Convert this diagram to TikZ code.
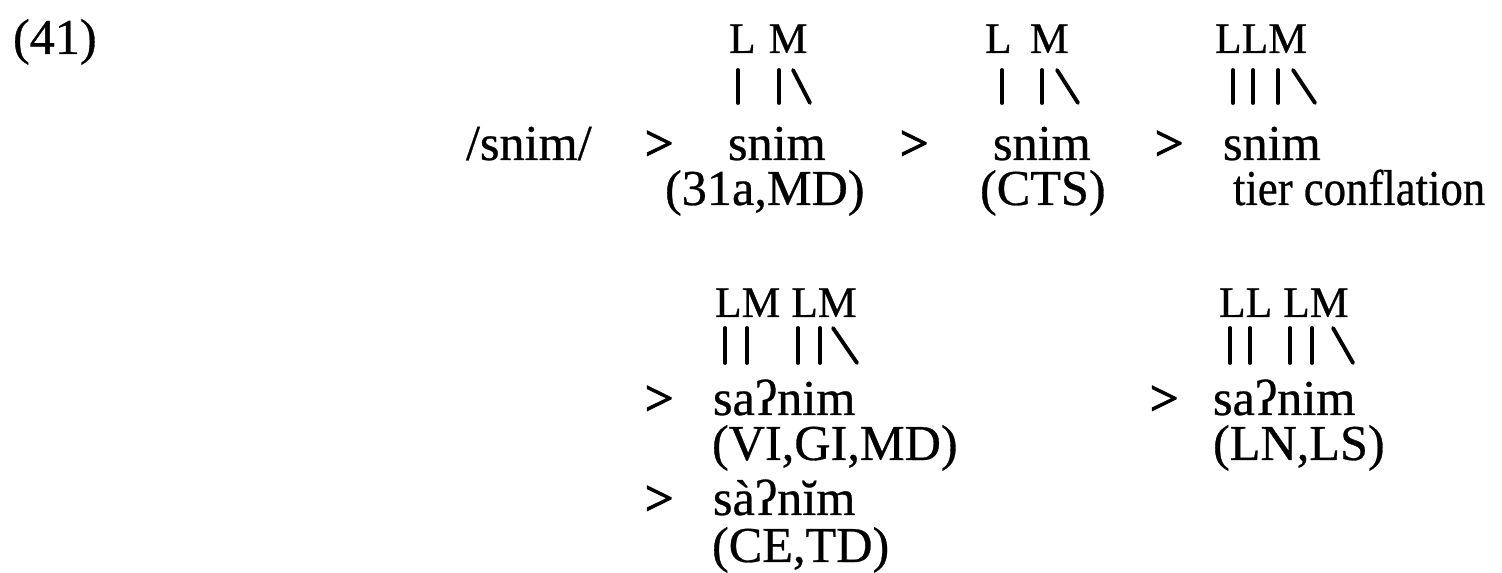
\documentclass[tikz,border=0pt]{standalone}
\usepackage{fontspec}
\setmainfont{Liberation Serif}
\newfontfamily\scanfont{Liberation Serif}[FakeBold=0.6]
\newfontfamily\relfont{Liberation Serif}[FakeBold=2.5]
\usetikzlibrary{positioning}

\begin{document}
\begin{tikzpicture}[x=1cm, y=-1cm,
	every node/.style={anchor=base west, inner sep=0pt, outer sep=0pt},
	seg/.style={font=\scanfont\fontsize{14.3}{17}\selectfont},
	rel/.style={font=\relfont\fontsize{14.3}{17}\selectfont},
	tone/.style={font=\scanfont\fontsize{12.4}{14}\selectfont},
	assoc/.style={line width=1.1pt, line cap=round}]
	
	\useasboundingbox (0,0) rectangle (15.02,5.73);
	
	%//example number
	\node [seg] (num) at (0.13, 0.54) {(41)};
	
	%//first row: tones, association lines, forms, sources
	\foreach \x/\n/\val in {7.29/1/{L\hskip0.3em M}, 9.85/2/{L\hskip0.42em M}, 12.15/3/LLM}
	\node [tone] (tn\n) at (\x, 0.53) {\val};
	
	\foreach \x in {7.38, 7.79, 10.02, 10.42, 12.33, 12.53, 12.78}
	\draw [assoc] (\x, 0.70) -- (\x, 1.03);
	\foreach \x/\xe in {7.93/8.10, 10.57/10.78, 12.93/13.15}
	\draw [assoc] (\x, 0.70) -- (\xe, 1.03);
	
	\node [seg] (ur) at (4.66, 1.60) {/snim/};
	\foreach \x/\n in {6.45/1, 9.00/2, 11.55/3}
	\node [rel] (gt\n) at (\x, 1.60) {>};
	\foreach \x/\n in {7.28/1, 9.93/2, 12.23/3}
	\node [seg] (sn\n) at (\x, 1.60) {snim};
	
	\node [seg] (src1) at (6.65, 2.05) {(31a,MD)};
	\node [seg] (src2) at (9.80, 2.05) {(CTS)};
	\node [seg, transform shape, xscale=0.89] (src3) at (12.33, 2.05) {tier conflation};
	
	%//second row
	\node [tone] (tn4) at (7.15, 3.17) {LM LM};
	\node [tone] (tn5) at (12.19, 3.17) {LL LM};
	
	\foreach \x in {7.25, 7.47, 7.98, 8.20, 12.30, 12.50, 12.90, 13.12}
	\draw [assoc] (\x, 3.28) -- (\x, 3.63);
	\foreach \x/\xe in {8.33/8.57, 13.33/13.53}
	\draw [assoc] (\x, 3.28) -- (\xe, 3.63);
	
	\foreach \x/\n in {6.45/4, 11.50/5}
	\node [rel] (gt\n) at (\x, 4.15) {>};
	\node [seg] (sn4) at (7.13, 4.15) {saʔnim};
	\node [seg] (sn5) at (12.13, 4.15) {saʔnim};
	\node [seg] (src4) at (7.12, 4.60) {(VI,GI,MD)};
	\node [seg] (src5) at (12.13, 4.60) {(LN,LS)};
	
	\node [rel] (gt6) at (6.45, 5.15) {>};
	\node [seg] (sn6) at (7.13, 5.15) {sàʔnĭm};
	\node [seg] (src6) at (7.12, 5.62) {(CE,TD)};
	
\end{tikzpicture}
\end{document}
